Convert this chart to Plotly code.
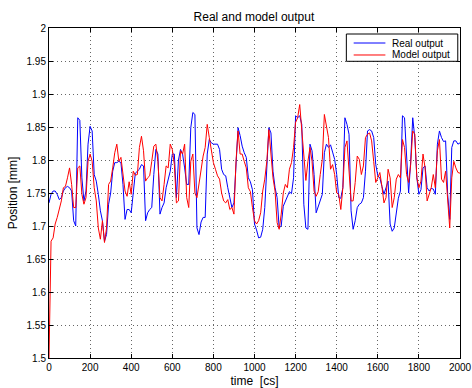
import plotly.graph_objects as go

time_cs = list(range(0, 2001, 10))

real_output = [
    1.735, 1.748, 1.753, 1.753, 1.748, 1.740, 1.743, 1.753, 1.758, 1.760,
    1.758, 1.753, 1.708, 1.700, 1.864, 1.860, 1.773, 1.738, 1.753, 1.824,
    1.851, 1.844, 1.778, 1.768, 1.748, 1.723, 1.708, 1.677, 1.687, 1.733,
    1.750, 1.783, 1.796, 1.796, 1.798, 1.796, 1.763, 1.710, 1.725, 1.725,
    1.720, 1.748, 1.780, 1.783, 1.786, 1.793, 1.791, 1.708, 1.720, 1.725,
    1.728, 1.778, 1.816, 1.809, 1.718, 1.728, 1.735, 1.758, 1.773, 1.783,
    1.809, 1.809, 1.743, 1.800, 1.816, 1.809, 1.788, 1.763, 1.763, 1.849,
    1.872, 1.869, 1.697, 1.687, 1.706, 1.713, 1.713, 1.809, 1.831, 1.826,
    1.824, 1.824, 1.824, 1.816, 1.786, 1.778, 1.776, 1.758, 1.740, 1.728,
    1.735, 1.798, 1.849, 1.837, 1.821, 1.811, 1.804, 1.773, 1.767, 1.755,
    1.703, 1.694, 1.682, 1.683, 1.695, 1.728, 1.798, 1.849, 1.841, 1.783,
    1.758, 1.743, 1.697, 1.700, 1.730, 1.738, 1.745, 1.752, 1.749, 1.773,
    1.867, 1.864, 1.867, 1.854, 1.733, 1.697, 1.695, 1.824, 1.814, 1.778,
    1.720, 1.730, 1.738, 1.748, 1.811, 1.824, 1.819, 1.823, 1.812, 1.801,
    1.778, 1.743, 1.742, 1.758, 1.864, 1.854, 1.839, 1.723, 1.695, 1.708,
    1.728, 1.733, 1.735, 1.743, 1.783, 1.844, 1.846, 1.844, 1.834, 1.793,
    1.776, 1.773, 1.760, 1.748, 1.758, 1.768, 1.703, 1.692, 1.697, 1.718,
    1.742, 1.753, 1.867, 1.864, 1.798, 1.750, 1.798, 1.864, 1.834, 1.773,
    1.748, 1.755, 1.788, 1.791, 1.758, 1.753, 1.757, 1.756, 1.748, 1.824,
    1.844, 1.834, 1.828, 1.829, 1.748, 1.710, 1.819, 1.829, 1.829, 1.824,
    1.826,
]

model_output = [
    1.500, 1.677, 1.682, 1.703, 1.713, 1.725, 1.738, 1.758, 1.760, 1.773,
    1.788, 1.763, 1.728, 1.728, 1.788, 1.791, 1.748, 1.733, 1.743, 1.798,
    1.809, 1.798, 1.758, 1.738, 1.697, 1.680, 1.708, 1.675, 1.697, 1.763,
    1.768, 1.788, 1.811, 1.824, 1.798, 1.804, 1.778, 1.753, 1.745, 1.767,
    1.748, 1.783, 1.777, 1.778, 1.819, 1.836, 1.814, 1.768, 1.773, 1.776,
    1.798, 1.821, 1.824, 1.798, 1.743, 1.738, 1.763, 1.791, 1.788, 1.824,
    1.816, 1.793, 1.735, 1.738, 1.814, 1.809, 1.824, 1.743, 1.728, 1.798,
    1.809, 1.750, 1.743, 1.763, 1.788, 1.806, 1.819, 1.854, 1.834, 1.811,
    1.796, 1.786, 1.776, 1.771, 1.750, 1.738, 1.735, 1.740, 1.725, 1.728,
    1.718, 1.798, 1.844, 1.809, 1.809, 1.798, 1.788, 1.758, 1.752, 1.728,
    1.708, 1.703, 1.708, 1.720, 1.753, 1.771, 1.798, 1.846, 1.814, 1.773,
    1.753, 1.705, 1.695, 1.718, 1.750, 1.763, 1.758, 1.786, 1.796, 1.819,
    1.857, 1.864, 1.884, 1.849, 1.811, 1.769, 1.798, 1.819, 1.798, 1.753,
    1.745, 1.752, 1.778, 1.801, 1.869, 1.854, 1.834, 1.786, 1.793, 1.778,
    1.750, 1.748, 1.725, 1.758, 1.819, 1.829, 1.781, 1.738, 1.738, 1.766,
    1.806, 1.801, 1.778, 1.791, 1.834, 1.839, 1.841, 1.829, 1.798, 1.766,
    1.773, 1.781, 1.760, 1.735, 1.743, 1.786, 1.773, 1.728, 1.743, 1.771,
    1.778, 1.773, 1.831, 1.819, 1.778, 1.766, 1.793, 1.844, 1.839, 1.773,
    1.758, 1.768, 1.809, 1.788, 1.738, 1.748, 1.758, 1.778, 1.758, 1.814,
    1.831, 1.771, 1.766, 1.783, 1.733, 1.697, 1.773, 1.798, 1.788, 1.781,
    1.780,
]

series_names = ["Real output", "Model output"]
series_colors = ["#0000ff", "#ff0000"]

x_ticks = [0, 200, 400, 600, 800, 1000, 1200, 1400, 1600, 1800, 2000]
y_ticks = [1.5, 1.55, 1.6, 1.65, 1.7, 1.75, 1.8, 1.85, 1.9, 1.95, 2.0]
y_tick_labels = ["1.5", "1.55", "1.6", "1.65", "1.7", "1.75", "1.8", "1.85", "1.9", "1.95", "2"]

FONT = "Arial, Liberation Sans, Helvetica, sans-serif"

fig = go.Figure()
for name, vals, col in zip(series_names, [real_output, model_output], series_colors):
    fig.add_trace(go.Scatter(x=time_cs, y=vals, mode="lines", name=name,
                             line=dict(color=col, width=1), showlegend=False))

axis_common = dict(
    showline=True, linecolor="black", linewidth=1, mirror="ticks",
    ticks="inside", ticklen=4, tickcolor="black",
    showgrid=True, gridcolor="#666666", griddash="1px,3px", gridwidth=1,
    zeroline=False, automargin=False,
    tickfont=dict(family=FONT, size=10, color="black"),
)

# MATLAB-style compact legend box (paper coordinates inside the axes)
leg_x0, leg_x1, leg_y0, leg_y1 = 0.7235, 0.9946, 0.8991, 0.9818
line_x0, line_x1, text_x = 0.7413, 0.8185, 0.8307
row_y = [0.9545, 0.9182]

shapes = [dict(type="rect", xref="paper", yref="paper",
               x0=leg_x0, x1=leg_x1, y0=leg_y0, y1=leg_y1,
               line=dict(color="black", width=1), fillcolor="white", layer="above")]
annotations = []
for name, col, ry in zip(series_names, series_colors, row_y):
    shapes.append(dict(type="line", xref="paper", yref="paper",
                       x0=line_x0, x1=line_x1, y0=ry, y1=ry,
                       line=dict(color=col, width=1), layer="above"))
    annotations.append(dict(text=name, xref="paper", yref="paper", x=text_x, y=ry,
                            xanchor="left", yanchor="middle", showarrow=False,
                            font=dict(family=FONT, size=10, color="black")))

fig.update_layout(
    width=472, height=388,
    margin=dict(l=49, r=12, t=28, b=30),
    paper_bgcolor="white", plot_bgcolor="white",
    font=dict(family=FONT, size=11, color="black"),
    title=dict(text="Real and model output", x=0.538, xanchor="center",
               y=1 - 17 / 388, yanchor="middle", yref="container",
               font=dict(family=FONT, size=12, color="black")),
    xaxis=dict(range=[0, 2000], tickvals=x_ticks,
               title=dict(text="time  [cs]", standoff=4,
                          font=dict(family=FONT, size=12, color="black")),
               **axis_common),
    yaxis=dict(range=[1.5, 2.0], tickvals=y_ticks, ticktext=y_tick_labels,
               title=dict(text="Position [mm]", standoff=6,
                          font=dict(family=FONT, size=12, color="black")),
               **axis_common),
    shapes=shapes,
    annotations=annotations,
    showlegend=False,
)

fig.write_html("out.html", config={"displayModeBar": False},
               post_script="document.body.style.margin='0';document.body.style.overflow='hidden';")
